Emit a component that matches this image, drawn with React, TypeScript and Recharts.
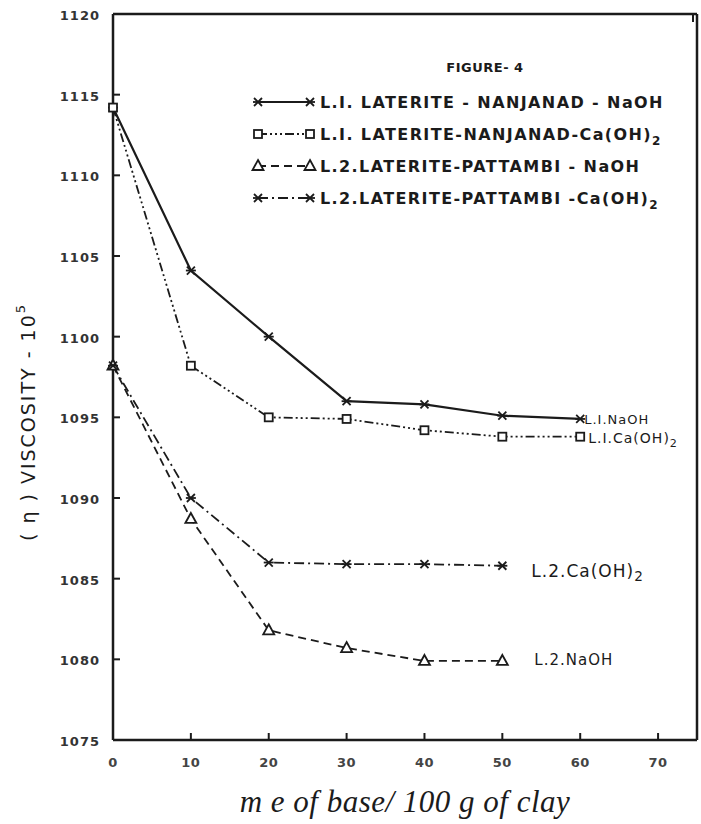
import { LineChart, Line, XAxis, YAxis, Legend, LabelList, Label } from 'recharts'

// me of base / 100 g of clay
const baseAdded = [0, 10, 20, 30, 40, 50, 60]

// viscosity readings
const l1NaOH = [1114.2, 1104.1, 1100.0, 1096.0, 1095.8, 1095.1, 1094.9]
const l1CaOH = [1114.2, 1098.2, 1095.0, 1094.9, 1094.2, 1093.8, 1093.8]
const l2NaOH = [1098.2, 1088.7, 1081.8, 1080.7, 1079.9, 1079.9]
const l2CaOH = [1098.2, 1090.0, 1086.0, 1085.9, 1085.9, 1085.8]

const xTicks = [0, 10, 20, 30, 40, 50, 60, 70]
const yTicks = [1075, 1080, 1085, 1090, 1095, 1100, 1105, 1110, 1115, 1120]

const legendNames = [
  'L.I. LATERITE - NANJANAD - NaOH',
  'L.I. LATERITE-NANJANAD-Ca(OH)',
  'L.2.LATERITE-PATTAMBI - NaOH',
  'L.2.LATERITE-PATTAMBI -Ca(OH)',
]
const endNames = ['L.I.NaOH', 'L.I.Ca(OH)', 'L.2.NaOH', 'L.2.Ca(OH)']

const INK = '#1b1b1b'
const FONT = '"DejaVu Sans", sans-serif'

const data = baseAdded.map((x, i) => ({
  x,
  l1NaOH: l1NaOH[i] ?? null,
  l1CaOH: l1CaOH[i] ?? null,
  l2NaOH: l2NaOH[i] ?? null,
  l2CaOH: l2CaOH[i] ?? null,
}))

type Marker = 'cross' | 'square' | 'triangle'

const series = [
  { key: 'l1NaOH', dash: undefined, marker: 'cross' as Marker, sub: false, label: { dx: 4, dy: 5, size: 13 } },
  { key: 'l1CaOH', dash: '9 3 2 3 2 3 2 3', marker: 'square' as Marker, sub: true, label: { dx: 8, dy: 6, size: 14 } },
  { key: 'l2NaOH', dash: '8 5', marker: 'triangle' as Marker, sub: false, label: { dx: 32, dy: 4, size: 15 } },
  { key: 'l2CaOH', dash: '10 4 2 4', marker: 'cross' as Marker, sub: true, label: { dx: 29, dy: 11, size: 17 } },
]

const MarkerShape = ({ cx, cy, type }: { cx: number; cy: number; type: Marker }) => {
  if (cx == null || cy == null) return null
  if (type === 'square') {
    return <rect x={cx - 4} y={cy - 4} width={8} height={8} fill="white" stroke={INK} strokeWidth={1.8} />
  }
  if (type === 'triangle') {
    return (
      <polygon
        points={`${cx},${cy - 6} ${cx + 5.5},${cy + 4} ${cx - 5.5},${cy + 4}`}
        fill="white"
        stroke={INK}
        strokeWidth={1.8}
      />
    )
  }
  return (
    <g stroke={INK} strokeWidth={1.8}>
      <line x1={cx - 4} y1={cy - 4} x2={cx + 4} y2={cy + 4} />
      <line x1={cx - 4} y1={cy + 4} x2={cx + 4} y2={cy - 4} />
      <line x1={cx - 5} y1={cy} x2={cx + 5} y2={cy} />
    </g>
  )
}

const BottomTick = ({ x, y, payload }: any) => (
  <g>
    <line x1={x} x2={x} y1={y} y2={y - 7} stroke={INK} strokeWidth={2} />
    <text x={x} y={y + 27} textAnchor="middle" fontSize={13} fontWeight="bold" fontFamily={FONT} fill="#444" letterSpacing={0.5}>
      {payload.value}
    </text>
  </g>
)

const TopTick = ({ x, y }: any) => <line x1={x} x2={x} y1={y} y2={y + 8} stroke={INK} strokeWidth={2} />

const LeftTick = ({ x, y, payload }: any) => (
  <g>
    <line x1={x} x2={x + 7} y1={y} y2={y} stroke={INK} strokeWidth={2} />
    <text x={x - 13} y={y + 6} textAnchor="end" fontSize={13} fontWeight="bold" fontFamily={FONT} fill="#333" letterSpacing={1}>
      {payload.value}
    </text>
  </g>
)

const RightTick = ({ x, y }: any) => <line x1={x} x2={x - 10} y1={y} y2={y} stroke={INK} strokeWidth={2} />

const LegendBox = () => (
  <svg width={450} height={175}>
    <text x={235} y={22} textAnchor="middle" fontSize={13} fontWeight="bold" fontFamily={FONT} fill={INK} letterSpacing={0.5}>
      FIGURE- 4
    </text>
    {series.map((s, i) => {
      const cy = 52 + i * 32
      return (
        <g key={s.key}>
          <line x1={8} x2={60} y1={cy} y2={cy} stroke={INK} strokeWidth={1.8} strokeDasharray={s.dash} />
          <MarkerShape cx={8} cy={cy} type={s.marker} />
          <MarkerShape cx={60} cy={cy} type={s.marker} />
          <text x={70} y={cy + 6} fontSize={16} fontWeight="bold" fontFamily={FONT} fill={INK} letterSpacing={1.4}>
            {legendNames[i]}
            {s.sub && (
              <tspan fontSize={12} dy={5}>
                2
              </tspan>
            )}
          </text>
        </g>
      )
    })}
  </svg>
)

const makeEndLabel = (idx: number) => (props: any) => {
  const s = series[idx]
  const values = [l1NaOH, l1CaOH, l2NaOH, l2CaOH][idx]
  if (props.index !== values.length - 1) return null
  return (
    <text
      x={props.x + s.label.dx}
      y={props.y + s.label.dy}
      fontSize={s.label.size}
      fontFamily={FONT}
      fill={INK}
      letterSpacing={1}
    >
      {endNames[idx]}
      {s.sub && (
        <tspan fontSize={s.label.size * 0.8} dy={4}>
          2
        </tspan>
      )}
    </text>
  )
}

const YTitle = () => {
  const x = 28
  const y = 422
  return (
    <text
      x={x}
      y={y}
      transform={`rotate(-90 ${x} ${y})`}
      textAnchor="middle"
      dominantBaseline="central"
      fontSize={19}
      fontFamily={FONT}
      fill={INK}
      letterSpacing={2}
    >
      ( η ) VISCOSITY - 10
      <tspan fontSize={13} dy={-8}>
        5
      </tspan>
    </text>
  )
}

const XTitle = () => (
  <text
    x={405}
    y={812}
    textAnchor="middle"
    fontSize={31}
    fontStyle="italic"
    fontFamily='"Liberation Serif", serif'
    fill={INK}
    letterSpacing={0.5}
  >
    m e of base/ 100 g of clay
  </text>
)

export default function App() {
  return (
    <div style={{ position: 'absolute', left: 0, top: 0, width: 701, height: 824, background: 'white' }}>
      <LineChart width={701} height={824} data={data} margin={{ top: 0, right: 0, bottom: 0, left: 0 }}>
        <XAxis
          dataKey="x"
          type="number"
          domain={[0, 75]}
          ticks={xTicks}
          height={84}
          tickSize={0}
          tickMargin={0}
          tickLine={false}
          axisLine={{ stroke: INK, strokeWidth: 2.5 }}
          tick={<BottomTick />}
        >
          <Label content={<XTitle />} />
        </XAxis>
        <XAxis
          xAxisId="top"
          orientation="top"
          type="number"
          domain={[0, 75]}
          ticks={xTicks}
          height={14}
          tickSize={0}
          tickMargin={0}
          tickLine={false}
          axisLine={{ stroke: INK, strokeWidth: 2.5 }}
          tick={<TopTick />}
        />
        <YAxis
          type="number"
          domain={[1075, 1120]}
          ticks={yTicks}
          width={113}
          tickSize={0}
          tickMargin={0}
          tickLine={false}
          axisLine={{ stroke: INK, strokeWidth: 2.5 }}
          tick={<LeftTick />}
        >
          <Label content={<YTitle />} />
        </YAxis>
        <YAxis
          yAxisId="right"
          orientation="right"
          type="number"
          domain={[1075, 1120]}
          ticks={yTicks}
          width={4}
          tickSize={0}
          tickMargin={0}
          tickLine={false}
          axisLine={{ stroke: INK, strokeWidth: 2.5 }}
          tick={<RightTick />}
        />
        <Legend
          layout="vertical"
          align="center"
          verticalAlign="middle"
          wrapperStyle={{ position: 'absolute', left: 250, top: 50, width: 450, height: 175 }}
          content={<LegendBox />}
        />
        {series.map((s, i) => (
          <Line
            key={s.key}
            dataKey={s.key}
            stroke={INK}
            strokeWidth={s.dash ? 1.8 : 2.2}
            strokeDasharray={s.dash}
            type="linear"
            connectNulls={false}
            isAnimationActive={false}
            dot={(p: any) => <MarkerShape key={`${s.key}-${p.index}`} cx={p.cx} cy={p.cy} type={s.marker} />}
            activeDot={false}
          >
            <LabelList dataKey={s.key} content={makeEndLabel(i)} />
          </Line>
        ))}
      </LineChart>
    </div>
  )
}
